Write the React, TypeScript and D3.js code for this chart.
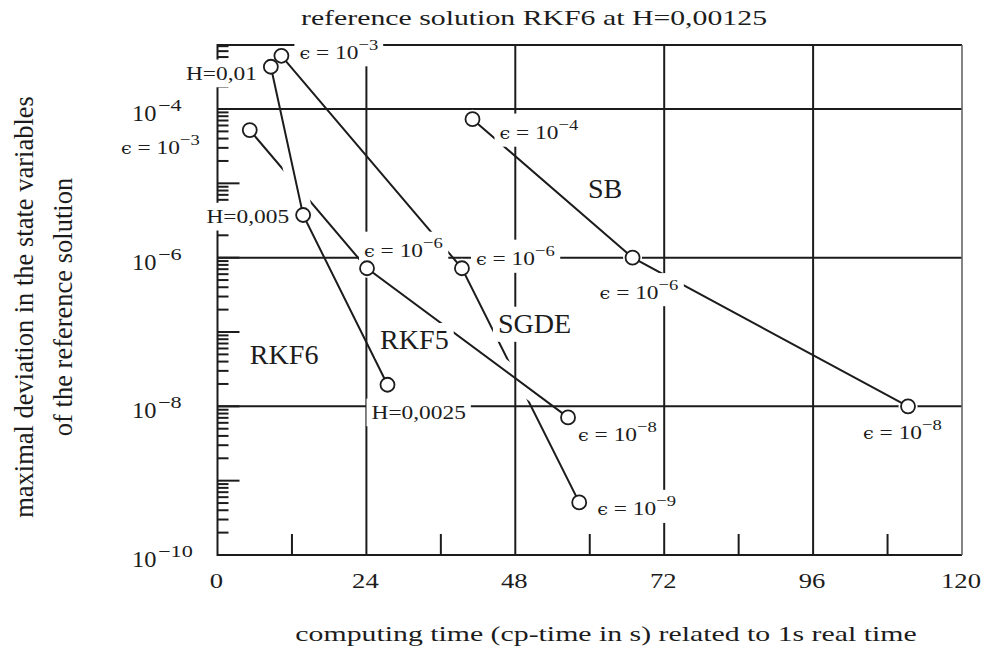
import React, { useEffect, useRef } from 'react';
import * as d3 from 'd3';

// series values (computing time in s, max deviation)
const timeSB = [41.1, 66.9, 111.3];
const errSB = [7.3e-5, 1.0e-6, 1.0e-8];
const epsSB = [-4, -6, -8];

const timeSGDE = [10.3, 39.4, 58.3];
const errSGDE = [5.2e-4, 7.2e-7, 5.1e-10];
const epsSGDE = [-3, -6, -9];

const timeRKF5 = [5.2, 24.1, 56.5];
const errRKF5 = [5.2e-5, 7.2e-7, 7.1e-9];
const epsRKF5 = [-3, -6, -8];

const timeRKF6 = [8.6, 13.8, 27.4];
const errRKF6 = [3.7e-4, 3.75e-6, 1.95e-8];
const stepRKF6 = ['H=0,01', 'H=0,005', 'H=0,0025'];

const xTicks = [0, 24, 48, 72, 96, 120];
const xMinor = [12, 36, 60, 84, 108];
const yGrid = [1e-4, 1e-6, 1e-8];
const yLabelExp = [-4, -6, -8, -10];

const title = 'reference solution RKF6 at H=0,00125';
const xTitle = 'computing time (cp-time in s) related to 1s real time';
const yTitle1 = 'maximal deviation in the state variables';
const yTitle2 = 'of the reference solution';

// where the little labels sit relative to their circle: dx, dy, anchor
const tagLayout: any = {
  SB: [[27, 20, 'start'], [-33, 41, 'start'], [-45, 33, 'start']],
  SGDE: [[18, 3, 'start'], [14, -3, 'start'], [18, 13, 'start']],
  RKF5: [[-50, 24, 'end'], [-3, -11, 'start'], [10, 24, 'start']],
  RKF6: [[-14, 13, 'end'], [-14, 8, 'end'], [-16, 34, 'start']],
};
// series name anchors, in data units
const nameAt: any = {
  RKF6: [5.2, 3.67e-8],
  RKF5: [26.2, 5.85e-8],
  SGDE: [45.2, 9.7e-8],
  SB: [59.7, 6.3e-6],
};

const W = 988;
const H = 657;
const ink = '#1c1c1c';

export default function App() {
  const ref = useRef<SVGSVGElement>(null);

  useEffect(() => {
    const svg = d3.select(ref.current);
    svg.selectAll('*').remove();

    const x = d3.scaleLinear().domain([0, 120]).range([217.5, 962]);
    const y = d3.scaleLog().domain([1e-10, Math.pow(10, -3.139)]).range([555, 45]);
    const [x0, x1] = x.range();
    const [yb, yt] = y.range();

    // later series cut through the earlier ones
    const series = [
      { name: 'SB', time: timeSB, err: errSB, tags: epsSB },
      { name: 'SGDE', time: timeSGDE, err: errSGDE, tags: epsSGDE },
      { name: 'RKF5', time: timeRKF5, err: errRKF5, tags: epsRKF5 },
      { name: 'RKF6', time: timeRKF6, err: errRKF6, tags: stepRKF6 },
    ].map(s => ({ ...s, pts: s.time.map((t, i) => [t, s.err[i]] as [number, number]) }));

    const line = d3.line<[number, number]>().x(d => x(d[0])).y(d => y(d[1]));

    const defs = svg.append('defs');
    series.forEach((s, i) => {
      const m = defs.append('mask').attr('id', 'cut-' + s.name)
        .attr('maskUnits', 'userSpaceOnUse')
        .attr('x', 0).attr('y', 0).attr('width', W).attr('height', H);
      m.append('rect').attr('width', W).attr('height', H).attr('fill', 'white');
      series.slice(i + 1).forEach(o => {
        m.append('path').attr('d', line(o.pts))
          .attr('fill', 'none').attr('stroke', 'black')
          .attr('stroke-width', 20).attr('stroke-linejoin', 'round');
      });
    });

    const gGrid = svg.append('g').attr('stroke', ink).attr('stroke-width', 2);
    const gHalo = svg.append('g');
    const gLines = svg.append('g');
    const gBoxes = svg.append('g');
    const gDots = svg.append('g');
    const gText = svg.append('g').attr('fill', ink).attr('font-family', '"Liberation Serif", serif');

    // grid
    xTicks.slice(1, -1).forEach(t => {
      gGrid.append('line').attr('x1', x(t)).attr('x2', x(t)).attr('y1', yt).attr('y2', yb);
    });
    yGrid.forEach(v => {
      gGrid.append('line').attr('x1', x0).attr('x2', x1).attr('y1', y(v)).attr('y2', y(v));
    });
    // frame
    gGrid.append('line').attr('x1', x0).attr('x2', x0).attr('y1', yt - 1).attr('y2', yb + 1);
    gGrid.append('line').attr('x1', x0).attr('x2', x1).attr('y1', yt).attr('y2', yt);
    gGrid.append('line').attr('x1', x0).attr('x2', x1).attr('y1', yb).attr('y2', yb);
    gGrid.append('line').attr('x1', x1).attr('x2', x1).attr('y1', yt).attr('y2', yb)
      .attr('stroke', '#666').attr('stroke-width', 1.6);
    xMinor.forEach(t => {
      gGrid.append('line').attr('x1', x(t)).attr('x2', x(t)).attr('y1', yb).attr('y2', yb - 21);
    });
    for (let e = -10; e <= -4; e++) {
      for (let m = 1; m <= 9; m++) {
        const v = m * Math.pow(10, e);
        if (v > y.domain()[1]) continue;
        gGrid.append('line').attr('x1', x0).attr('x2', x0 + (m === 1 ? 22 : 11))
          .attr('y1', y(v)).attr('y2', y(v));
      }
    }

    // circle halos, lines
    series.forEach(s => {
      s.pts.forEach(p => {
        gHalo.append('circle').attr('cx', x(p[0])).attr('cy', y(p[1])).attr('r', 9.5).attr('fill', 'white');
      });
      gLines.append('path').attr('d', line(s.pts)).attr('fill', 'none')
        .attr('stroke', ink).attr('stroke-width', 2)
        .attr('mask', `url(#cut-${s.name})`);
    });

    const place = (sel: any, px: number, py: number, sx: number) =>
      sel.attr('transform', `translate(${px},${py}) scale(${sx},1)`);

    // axis labels
    xTicks.forEach(t => {
      place(gText.append('text'), x(t) - 1, 588, 1.3)
        .attr('text-anchor', 'middle').attr('font-size', 20.5).text(t);
    });
    yLabelExp.forEach(e => {
      const base = y(Math.pow(10, e)) + 12;
      place(gText.append('text'), 132, base, 1.04).attr('font-size', 23.5).text('10');
      place(gText.append('text'), 158, base - 10, 1.35).attr('font-size', 16.5)
        .text('\u2212' + Math.abs(e));
    });
    place(gText.append('text'), 534, 25, 1.42).attr('text-anchor', 'middle').attr('font-size', 21).text(title);
    place(gText.append('text'), 606, 641, 1.42).attr('text-anchor', 'middle').attr('font-size', 21).text(xTitle);
    gText.append('text').attr('transform', 'translate(33,307) rotate(-90)')
      .attr('text-anchor', 'middle').attr('font-size', 26.5).text(yTitle1);
    gText.append('text').attr('transform', 'translate(72,307) rotate(-90)')
      .attr('text-anchor', 'middle').attr('font-size', 26.5).text(yTitle2);

    // annotations, each with a white box that cuts the lines below
    const boxed: any[] = [];
    series.forEach(s => {
      s.pts.forEach((p, i) => {
        const [dx, dy, anchor] = tagLayout[s.name][i];
        const t = place(gText.append('text'), x(p[0]) + dx, y(p[1]) + dy, 1.2)
          .attr('text-anchor', anchor).attr('font-size', 19.5);
        const tag = s.tags[i];
        if (typeof tag === 'number') {
          t.append('tspan').attr('font-family', '"DejaVu Serif", serif')
            .attr('font-size', 16).text('\u03F5');
          t.append('tspan').text(' = 10');
          t.append('tspan').attr('dy', -9).attr('font-size', 15.5).text('\u2212' + Math.abs(tag));
        } else {
          t.text(tag);
        }
        boxed.push(t.node());
      });
      const [nx, ny] = nameAt[s.name];
      const n = place(gText.append('text'), x(nx), y(ny), 1.06).attr('font-size', 26.5).text(s.name);
      boxed.push(n.node());
    });

    const sr = (ref.current as SVGSVGElement).getBoundingClientRect();
    boxed.forEach(node => {
      const r = node.getBoundingClientRect();
      gBoxes.append('rect')
        .attr('x', r.left - sr.left - 5).attr('y', r.top - sr.top - 3)
        .attr('width', r.width + 10).attr('height', r.height + 6)
        .attr('fill', 'white');
    });

    series.forEach(s => {
      s.pts.forEach(p => {
        gDots.append('circle').attr('cx', x(p[0])).attr('cy', y(p[1])).attr('r', 7)
          .attr('fill', 'white').attr('stroke', ink).attr('stroke-width', 1.8);
      });
    });
  }, []);

  return (
    <svg
      ref={ref}
      width={W}
      height={H}
      style={{ position: 'absolute', left: 0, top: 0, background: '#fff' }}
    />
  );
}
